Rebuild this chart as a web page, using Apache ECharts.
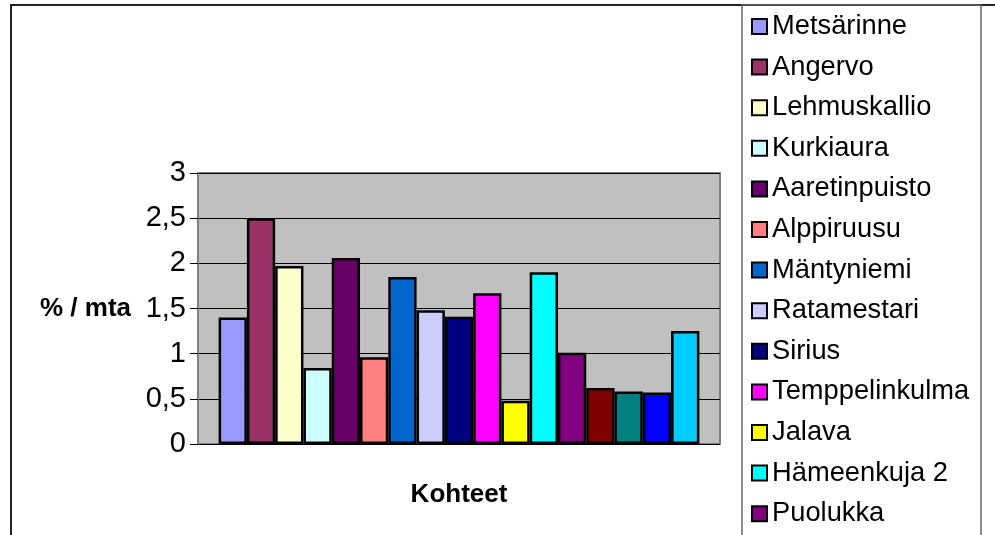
<!DOCTYPE html>
<html>
<head>
<meta charset="utf-8">
<script src="https://cdn.jsdelivr.net/npm/echarts@6/dist/echarts.min.js"></script>
<style>
  html, body { margin: 0; padding: 0; background: #fff; overflow: hidden; }
  #chart { width: 995px; height: 535px; }
</style>
</head>
<body>
<div id="chart"></div>
<script>
// Kohteet (sites) and their yearly percentage values
const sites = [
  'Metsärinne', 'Angervo', 'Lehmuskallio', 'Kurkiaura', 'Aaretinpuisto',
  'Alppiruusu', 'Mäntyniemi', 'Ratamestari', 'Sirius', 'Temppelinkulma',
  'Jalava', 'Hämeenkuja 2', 'Puolukka', 'Kohde 14', 'Kohde 15', 'Kohde 16', 'Kohde 17'
];
const values = [1.40, 2.50, 1.97, 0.84, 2.06, 0.96, 1.85, 1.48, 1.41, 1.67, 0.48, 1.90, 1.01, 0.62, 0.58, 0.57, 1.25];
const colors = [
  '#9999FF', '#993366', '#FFFFCC', '#CCFFFF', '#660066', '#FF8080', '#0066CC', '#CCCCFF',
  '#000080', '#FF00FF', '#FFFF00', '#00FFFF', '#800080', '#800000', '#008080', '#0000FF', '#00CCFF'
];
// Legend entries that fit in the frame
const legendNames = sites.slice(0, 13);
const yTicks = { min: 0, max: 3, step: 0.5 };

const FONT = 'Arial, "Liberation Sans", sans-serif';

const chart = echarts.init(document.getElementById('chart'), null, { renderer: 'canvas' });

const series = sites.map((name, i) => ({
  name: name,
  type: 'bar',
  data: [values[i]],
  barGap: '0%',
  barCategoryGap: '7.9%',
  itemStyle: { color: colors[i], borderColor: '#000', borderWidth: 2.5 },
  emphasis: { disabled: true }
}));

chart.setOption({
  animation: false,
  backgroundColor: '#fff',
  graphic: [
    { type: 'rect', silent: true, z: -1,
      shape: { x: 11, y: 5, width: 1000, height: 600 },
      style: { fill: 'none', stroke: '#222', lineWidth: 2 } },
    { type: 'rect', silent: true, z: 0,
      shape: { x: 742, y: 5, width: 239, height: 600 },
      style: { fill: 'none', stroke: '#666', lineWidth: 1.5 } }
  ],
  grid: {
    left: 198, top: 173, right: 275, bottom: 91,
    show: true, backgroundColor: '#C0C0C0', borderColor: '#808080', borderWidth: 2
  },
  legend: {
    data: legendNames,
    orient: 'vertical',
    left: 742, top: 5,
    width: 239, height: 700,
    padding: [8, 8, 8, 9],
    itemWidth: 15, itemHeight: 15,
    itemGap: 13.6,
    itemTextGap: 9,
    icon: 'rect',
    itemStyle: { borderColor: '#000', borderWidth: 2 },
    textStyle: { fontFamily: FONT, fontSize: 27.3, color: '#000', lineHeight: 27 },
    selectedMode: false
  },
  xAxis: {
    type: 'category',
    data: [''],
    name: 'Kohteet',
    nameLocation: 'middle',
    nameGap: 38,
    nameTextStyle: { fontFamily: FONT, fontSize: 26, fontWeight: 'bold', color: '#000' },
    axisLine: { show: false },
    axisTick: { show: false },
    axisLabel: { show: false }
  },
  yAxis: {
    type: 'value',
    min: yTicks.min, max: yTicks.max, interval: yTicks.step,
    name: '% / mta',
    nameLocation: 'middle',
    nameRotate: 0,
    nameGap: 67,
    nameTextStyle: { fontFamily: FONT, fontSize: 26, fontWeight: 'bold', color: '#000', align: 'right' },
    axisLine: { show: true, lineStyle: { color: '#808080', width: 2 } },
    axisTick: { show: true, inside: false, length: 8, lineStyle: { color: '#000', width: 1 } },
    axisLabel: {
      fontFamily: FONT, fontSize: 29, color: '#000', margin: 12,
      formatter: v => String(v).replace('.', ',')
    },
    splitLine: { show: true, lineStyle: { color: '#000', width: 1 } }
  },
  series: series
});
</script>
</body>
</html>
